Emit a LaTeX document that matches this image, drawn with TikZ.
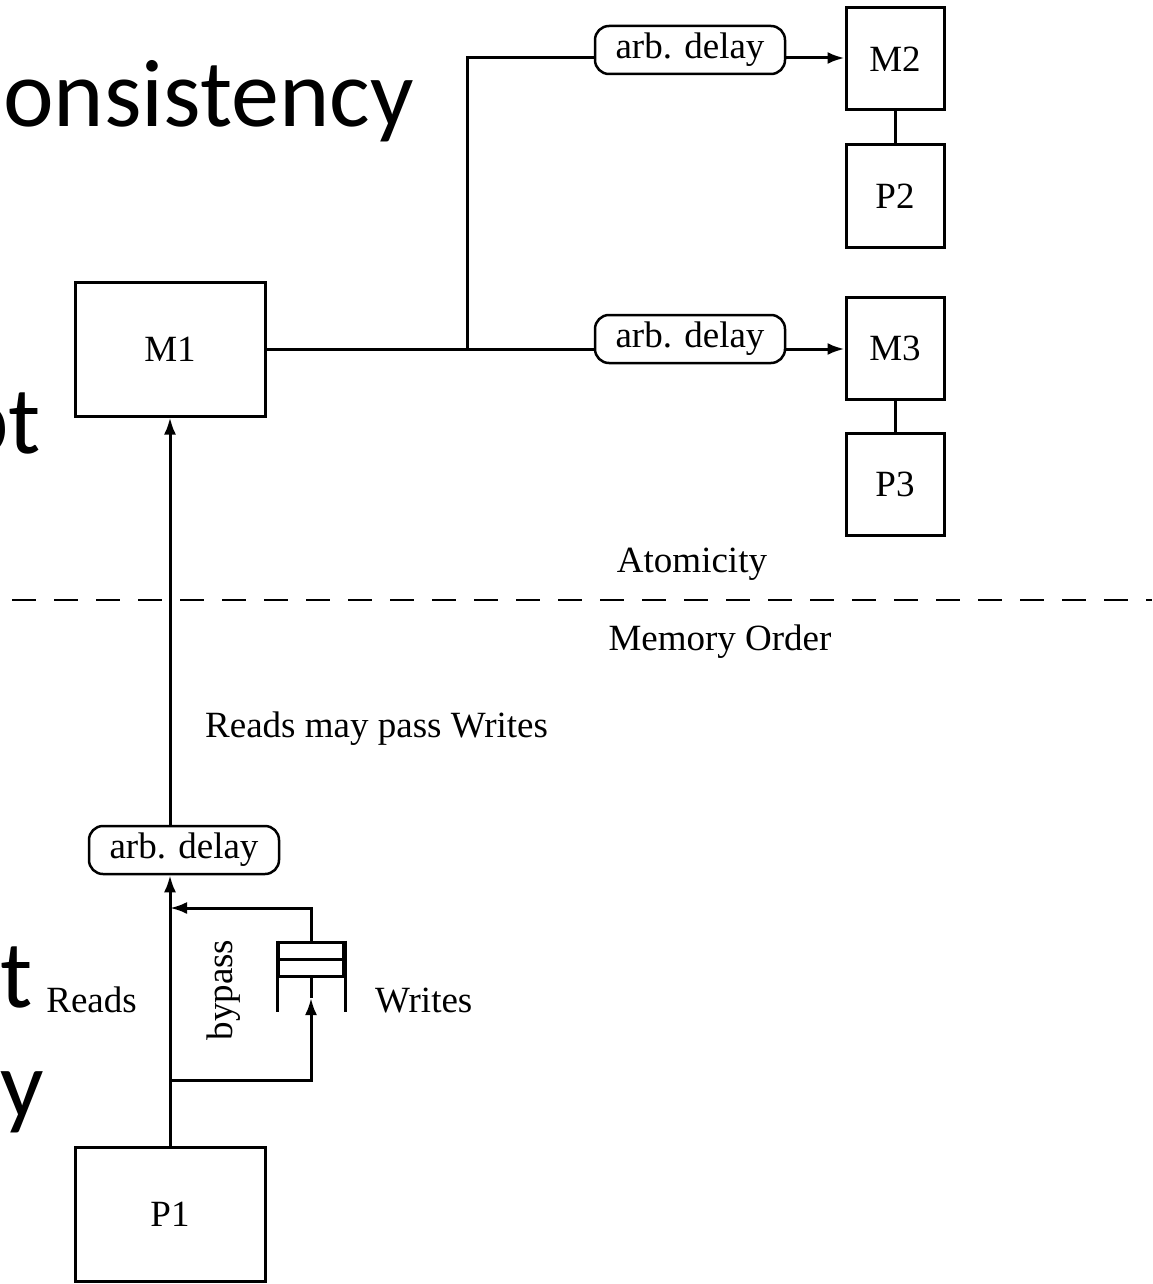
\documentclass[tikz,border=0pt]{standalone}
\usepackage{fontspec}
\setmainfont{Liberation Serif}
\newfontfamily\slidefont{Carlito}
\usetikzlibrary{arrows.meta, positioning}

\begin{document}
\begin{tikzpicture}[
  x=1pt, y=-1pt,
  font=\fontsize{37}{44}\selectfont,
  box/.style={
    draw,
    line width=3pt,
    minimum width=98,
    minimum height=102,
    inner sep=0pt
  },
  bigbox/.style={
    box,
    minimum width=190,
    minimum height=134
  },
  pill/.style={
    draw,
    line width=2.5pt,
    rounded corners=14pt,
    minimum width=190,
    minimum height=48,
    inner sep=0pt
  },
  queue/.style={
    draw,
    line width=3pt,
    minimum width=65,
    minimum height=34,
    inner sep=0pt
  },
  wire/.style={line width=3pt},
  arr/.style={wire, -{Latex[length=17pt,width=12pt]}},
  lbl/.style={inner sep=0pt},
  slide/.style={
    font=\slidefont\fontsize{96}{110}\selectfont,
    anchor=base west,
    inner sep=0pt
  }
]

\useasboundingbox (0,0) rectangle (1152,1284);
\fill[white] (0,0) rectangle (1152,1284);
\clip (0,0) rectangle (1152,1284);

% slide text behind the figure
\node[slide] (s1) at (3,127) {onsistency};
\node[slide] (s2) at (-42,453) {pt};
\node[slide] (s3) at (0,1007) {t};
\node[slide] (s4) at (0,1117) {y};

% -------------------------------------------------------------------
% memories and processors
% -------------------------------------------------------------------
\node[bigbox] (m1) at (170,349) {M1};
\node[bigbox] (p1) at (170,1214) {P1};

\node[box] (m2) at (895,59) {M2};
\node[box] (p2) at (895,196) {P2};
\node[box] (m3) at (895,348) {M3};
\node[box] (p3) at (895,484) {P3};

\draw[wire] (m2) -- (p2);
\draw[wire] (m3) -- (p3);

% -------------------------------------------------------------------
% delays
% -------------------------------------------------------------------
\node[pill] (d2) at (690,50) {arb. delay};
\node[pill] (d3) at (690,339) {arb. delay};
\node[pill] (d1) at (184,850) {arb. delay};

\coordinate (fork) at (467,349);
\draw[wire] (m1.east) -- (fork);
\draw[wire] (fork) |- ([yshift=-8pt]d2.west);
\draw[arr] ([yshift=-8pt]d2.east) -- ([yshift=-8pt]d2.east -| m2.west);
\draw[wire] (fork) -- ([yshift=-10pt]d3.west);
\draw[arr] ([yshift=-10pt]d3.east) -- (m3.west |- fork);

\draw[arr] (p1.north) -- (p1.north |- d1.south);
\draw[arr] (d1.north -| m1.south) -- (m1.south);

% -------------------------------------------------------------------
% write buffer and bypass
% -------------------------------------------------------------------
\node[queue] (wq) at (311,959) {};
\draw[wire] (wq.west) -- (wq.east);
\draw[wire] (wq.north west) -- ++(0,71);
\draw[wire] (wq.north east) -- ++(0,71);

\coordinate (split) at (170,1080);
\coordinate (merge) at (170,908);
\coordinate (wqin) at (311,998);
\draw[arr] (split) -| (wqin);
\draw[wire] (wqin) -- (wq.south);
\draw[arr] (wq.north) |- (merge);

% divider
\draw[line width=2.5pt, dash pattern=on 24pt off 18pt, dash phase=30pt]
  (0,600) -- (1152,600);

% labels
\node[lbl, anchor=base] (atom) at (692,572) {Atomicity};
\node[lbl, anchor=base] (memord) at (720,650) {Memory Order};
\node[lbl, anchor=base west] (rpw) at (205,737) {Reads may pass Writes};
\node[lbl, anchor=base east] (reads) at (137,1012) {Reads};
\node[lbl, anchor=base west] (writes) at (375,1012) {Writes};
\node[lbl, rotate=90] (bypass) at (224,990) {bypass};

\end{tikzpicture}
\end{document}
